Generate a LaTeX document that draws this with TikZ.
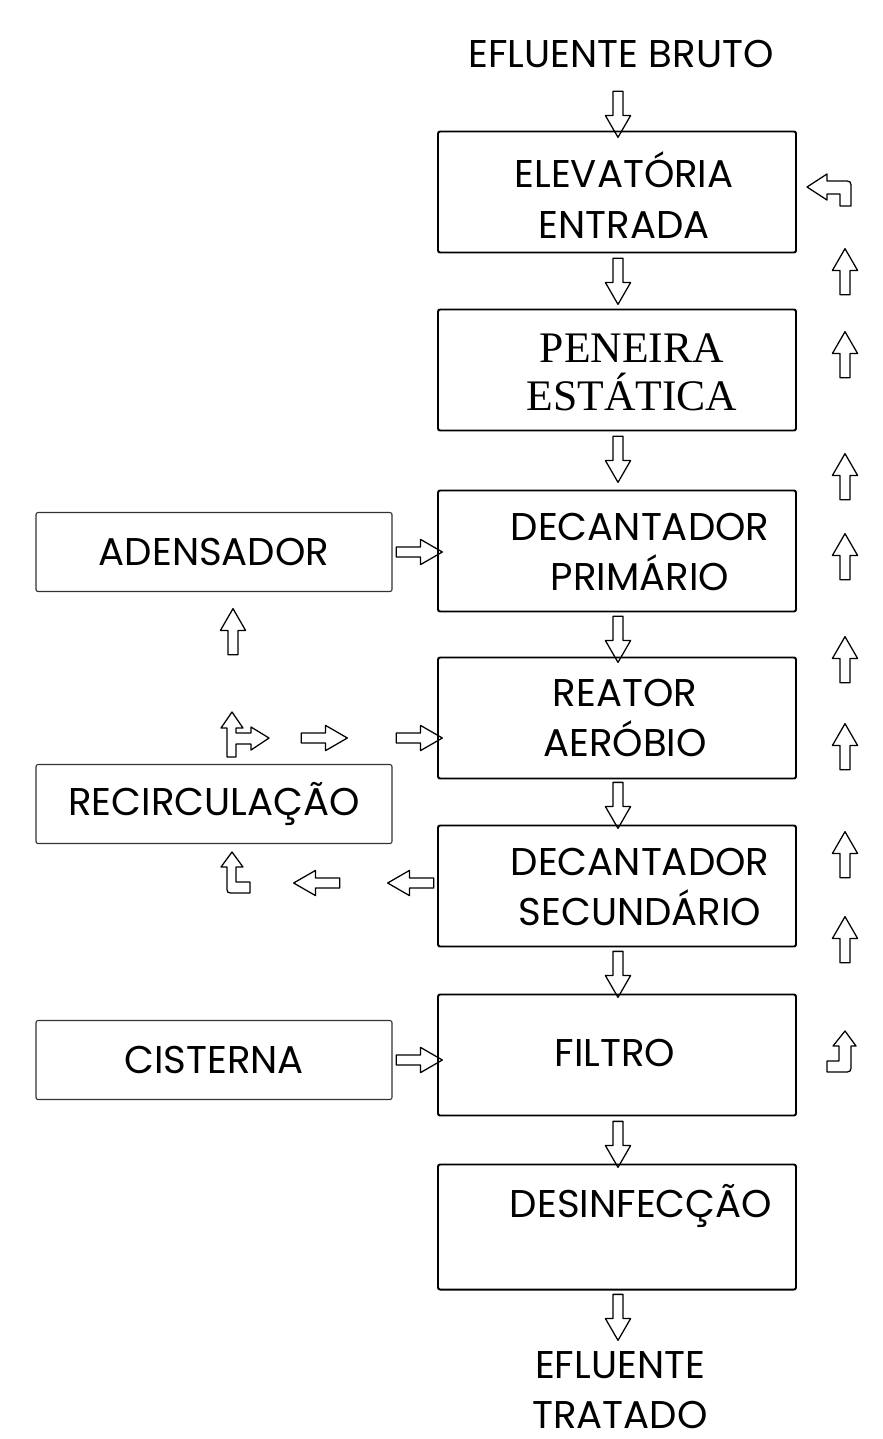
\documentclass[tikz,border=0pt]{standalone}
\usepackage{fontspec}
\setmainfont{Poppins}
\newfontfamily\serifa{Liberation Serif}
\usetikzlibrary{shapes.arrows}
\usetikzlibrary{calc}
\tikzstyle{every node}=[font=\fontsize{27.5}{36}\selectfont]
\tikzstyle{every path}=[line width=0.8pt,line cap=round,line join=round]
\tikzstyle{caixa}=[draw, line width=1.4pt, rounded corners=1.5pt, minimum width=358*0.025cm, minimum height=121*0.025cm]
\tikzstyle{caixab}=[draw=black!80, line width=0.8pt, rounded corners=1.5pt, minimum width=356*0.025cm, minimum height=79*0.025cm]
\tikzstyle{texto}=[align=center, inner sep=0pt]
\tikzstyle{seta}=[single arrow, draw, line width=0.9pt, inner xsep=0pt, inner ysep=0.11cm, single arrow head extend=0.19cm, single arrow tip angle=60, minimum height=46*0.025cm, minimum width=0pt]
\tikzstyle{curva}=[line width=0.9pt]

\begin{document}
\begin{tikzpicture}\begin{scope}[x=0.025cm,y=-0.025cm]
\useasboundingbox (0,0) rectangle (882,1439);
%caixas principais
\node[caixa] (elev) at (617,192) {};
\node[caixa] (pen) at (617,370) {};
\node[caixa] (dec1) at (617,551) {};
\node[caixa] (reat) at (617,718) {};
\node[caixa] (dec2) at (617,886) {};
\node[caixa] (filt) at (617,1055) {};
\node[caixa, minimum height=125*0.025cm] (desi) at (617,1227) {};
%textos
\node[texto] (bruto) at (621,54) {EFLUENTE BRUTO};
\node[texto] (t-elev) at (624,195) {ELEVATÓRIA\\ENTRADA};
\node[texto, font=\serifa\fontsize{31}{34}\selectfont] (t-pen) at (632,372) {PENEIRA\\ESTÁTICA};
\node[texto] (t-dec1) at (640,552) {DECANTADOR\\PRIMÁRIO};
\node[texto] (t-reat) at (625,718) {REATOR\\AERÓBIO};
\node[texto] (t-dec2) at (640,887) {DECANTADOR\\SECUNDÁRIO};
\node[texto] (t-filt) at (615,1053) {FILTRO};
\node[texto] (t-desi) at (641,1206) {DESINFECÇÃO};
\node[texto] (tratado) at (620,1390) {EFLUENTE\\TRATADO};
%caixas do lodo
\node[caixab] (aden) at (214,552) {ADENSADOR};
\node[caixab] (recir) at (214,804) {RECIRCULAÇÃO};
\node[caixab] (cist) at (214,1060) {CISTERNA};
%setas para baixo
\node[seta, rotate=-90] (s0) at (618,110) {};
\node[seta, rotate=-90] (s1) at (618,277) {};
\node[seta, rotate=-90] (s2) at (618,455) {};
\node[seta, rotate=-90] (s3) at (618,635) {};
\node[seta, rotate=-90] (s4) at (618,801) {};
\node[seta, rotate=-90] (s5) at (618,970) {};
\node[seta, rotate=-90] (s6) at (618,1140) {};
\node[seta, rotate=-90] (s7) at (618,1313) {};
%retorno lateral
\node[seta, rotate=90] (r1) at (845,276) {};
\node[seta, rotate=90] (r2) at (845,359) {};
\node[seta, rotate=90] (r3) at (845,481) {};
\node[seta, rotate=90] (r4) at (845,561) {};
\node[seta, rotate=90] (r5) at (845,664) {};
\node[seta, rotate=90] (r6) at (845,751) {};
\node[seta, rotate=90] (r7) at (845,859) {};
\node[seta, rotate=90] (r8) at (845,944) {};
\draw[curva] (807,187) -- (827,174) -- (827,181) -- (843,181) .. controls (851,181) .. (851,189)
  -- (851,206) -- (840,206) -- (840,194) -- (827,194) -- (827,200) -- cycle;
\draw[curva] (845,1031) -- (856,1046) -- (851,1046) -- (851,1064) .. controls (851,1072) .. (843,1072)
  -- (827,1072) -- (827,1061) -- (839,1061) -- (839,1046) -- (833,1046) -- cycle;
%lodo
\node[seta] (h1) at (415,552) {};
\node[seta, rotate=90] (h2) at (233,636) {};
\node[seta] (h3) at (320,738) {};
\node[seta] (h4) at (415,738) {};
\node[seta, rotate=180] (h5) at (321,883) {};
\node[seta, rotate=180] (h6) at (415,883) {};
\node[seta] (h7) at (415,1060) {};
\draw[curva] (232,712) -- (243,728) -- (236,728) -- (236,733) -- (251,733) -- (251,727) -- (269,738)
  -- (251,750) -- (251,744) -- (236,744) -- (236,757) -- (227,757) -- (227,728) -- (221,728) -- cycle;
\draw[curva] (232,852) -- (243,867) -- (236,867) -- (236,882) -- (250,882) -- (250,893) -- (234,893)
  .. controls (227,893) .. (227,886) -- (227,867) -- (221,867) -- cycle;
\end{scope}
\end{tikzpicture}
\end{document}
